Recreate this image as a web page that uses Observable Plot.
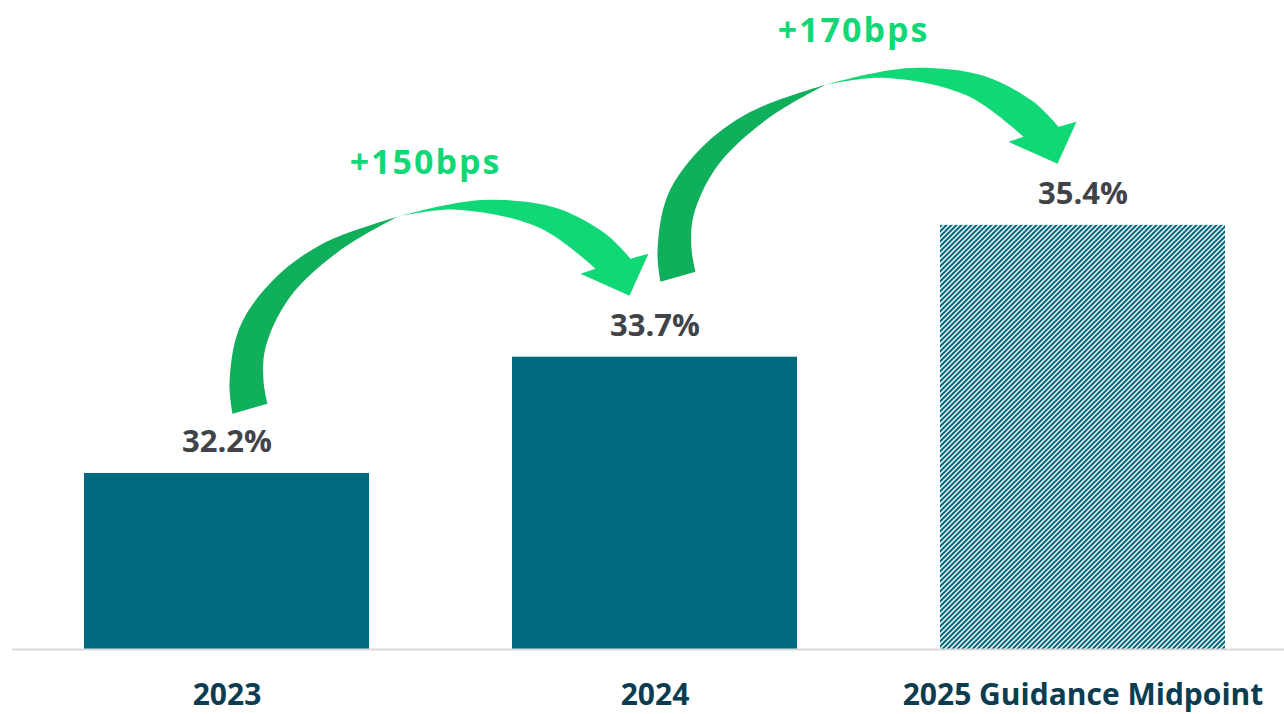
<!DOCTYPE html>
<html><head><meta charset="utf-8">
<script src="https://cdn.jsdelivr.net/npm/d3@7"></script>
<script src="https://cdn.jsdelivr.net/npm/@observablehq/plot@0.6"></script>
<style>body{margin:0;background:#fff;}</style>
</head><body><div id="chart"></div>
<script>
// ---- data ----
const categories = ["2023", "2024", "2025 Guidance Midpoint"];
const values = [32.2, 33.7, 35.4];
const valueLabels = ["32.2%", "33.7%", "35.4%"];
const projected = [false, false, true];
const changeFrom = ["2023", "2024"];
const changeTo = ["2024", "2025 Guidance Midpoint"];
const changeLabels = ["+150bps", "+170bps"];

const data = categories.map((c, i) => ({category: c, value: values[i], label: valueLabels[i], projected: projected[i]}));

// ---- styling ----
const teal = "#006A80";
const darkGreen = "#0FAF5C";
const lightGreen = "#11D876";
const yMin = 29.93, yMax = 38.3;

// arrow shape (local coordinates relative to an anchor)
const darkOuter = [[-208,57],[-211,27],[-201,-29],[-168,-76],[-118,-113],[-43,-140]];
const darkInner = [[-43,-140],[-101,-106],[-151,-59],[-175,-9],[-177,24],[-173,47]];
const lightOuter = [[-43,-140],[2,-151],[49,-157],[115,-149],[165,-123],[190,-98]];
const headPts = [[208,-103],[189,-61],[140,-83]];
const lightInner = [[155,-88],[99,-129],[15,-147],[-43,-140]];

const arrowMark = (index, scales) => {
  const x = scales.x, y = scales.y;
  const bw = typeof x.bandwidth === "function" ? x.bandwidth() : 0;
  const line = d3.line().curve(d3.curveCatmullRom.alpha(0.5));
  const g = d3.create("svg:g");
  for (let i = 0; i < changeLabels.length; i++) {
    const ax = (x(changeFrom[i]) + x(changeTo[i])) / 2 + bw / 2;
    const ay = y(values[categories.indexOf(changeTo[i])]);
    const t = g.append("g").attr("transform", `translate(${ax},${ay})`);
    t.append("path")
      .attr("d", line(darkOuter) + line(darkInner).replace(/^M/, "L") + "Z")
      .attr("fill", darkGreen);
    t.append("path")
      .attr("d", line(lightOuter) + headPts.map(p => "L" + p[0] + "," + p[1]).join("") + line(lightInner).replace(/^M/, "L") + "Z")
      .attr("fill", lightGreen);
    t.append("text")
      .attr("x", -15).attr("y", -196)
      .attr("text-anchor", "middle")
      .attr("dominant-baseline", "central")
      .attr("font-size", 34)
      .attr("font-weight", "bold")
      .attr("letter-spacing", 2)
      .attr("fill", lightGreen)
      .text(changeLabels[i]);
  }
  return g.node();
};

const chart = Plot.plot({
  width: 1284,
  height: 714,
  marginTop: 0,
  marginBottom: 65,
  marginLeft: 12,
  marginRight: 0,
  style: {fontFamily: "'Open Sans', sans-serif", background: "white"},
  x: {domain: categories, range: [26, 1284], paddingInner: 0.333, paddingOuter: 0.133, label: null},
  y: {domain: [yMin, yMax], axis: null},
  marks: [
    Plot.barY(data.filter(d => !d.projected), {x: "category", y1: yMin, y2: "value", fill: teal}),
    Plot.barY(data.filter(d => d.projected), {x: "category", y1: yMin, y2: "value", fill: "url(#hatch)"}),
    Plot.ruleY([yMin], {stroke: "#D9D9D9", strokeWidth: 2}),
    Plot.text(data, {x: "category", y: "value", text: "label", dy: -31, fontSize: 31, fontWeight: "bold", fill: "#404448"}),
    arrowMark,
    Plot.axisX({tickSize: 0, tickPadding: 34, fontSize: 30, fontWeight: "bold", fill: "#0B3C4F", label: null})
  ]
});

const svgSel = d3.select(chart);
const defs = svgSel.insert("defs", ":first-child");
const pat = defs.append("pattern").attr("id", "hatch").attr("patternUnits", "userSpaceOnUse")
  .attr("width", 5).attr("height", 5);
pat.append("polygon").attr("points", "0,0 3,0 0,3").attr("fill", teal);
pat.append("polygon").attr("points", "5,0 5,3 3,5 0,5").attr("fill", teal);

document.getElementById("chart").appendChild(chart);
</script>
</body></html>
